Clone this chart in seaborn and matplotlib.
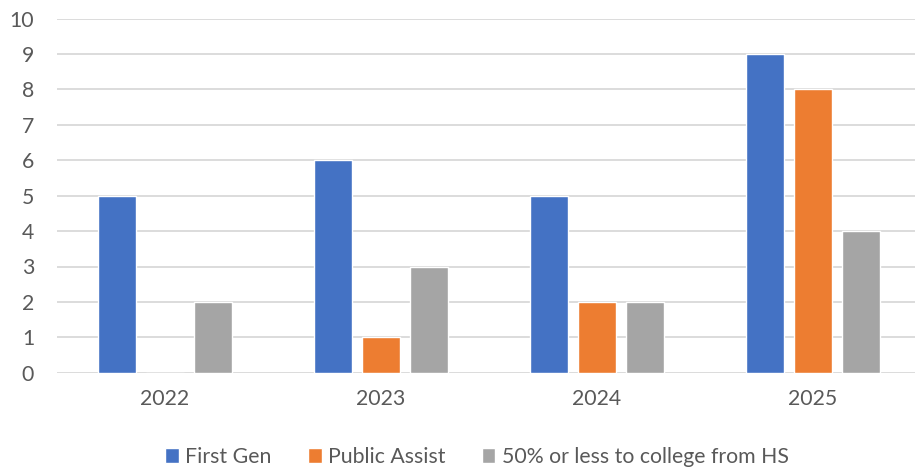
import matplotlib
matplotlib.use("Agg")
import matplotlib.pyplot as plt
import seaborn as sns
import pandas as pd

years = ["2022", "2023", "2024", "2025"]
series = ["First Gen", "Public Assist", "50% or less to college from HS"]
first_gen = [5, 6, 5, 9]
public_assist = [0, 1, 2, 8]
low_college = [2, 3, 2, 4]
colors = ["#4472C4", "#ED7D31", "#A5A5A5"]

rows = []
for name, vals in zip(series, [first_gen, public_assist, low_college]):
    for y, v in zip(years, vals):
        rows.append({"Year": y, "Series": name, "Value": v})
df = pd.DataFrame(rows)

sns.set_theme(style="white")
plt.rcParams["font.family"] = ["Lato", "DejaVu Sans"]

W, H = 915, 471
fig = plt.figure(figsize=(W / 100, H / 100), dpi=100)
left, right, top, bottom = 57, 915, 18.7, 372.7
ax = fig.add_axes([left / W, 1 - bottom / H, (right - left) / W, (bottom - top) / H])

sns.barplot(data=df, x="Year", y="Value", hue="Series", hue_order=series,
            palette=colors, width=0.667, gap=0.216, ax=ax, saturation=1,
            legend=True)

fs = 15.3
ax.set_ylim(0, 10)
ax.set_xlim(-0.5, 3.5 - 6 / 216)
ax.set_yticks(range(0, 11))
ax.yaxis.grid(True, color="#D9D9D9", linewidth=1.3)
ax.set_axisbelow(True)
for s in ax.spines.values():
    s.set_visible(False)
ax.set_xlabel("")
ax.set_ylabel("")
ax.tick_params(axis="y", length=0, pad=16.5, labelsize=fs, labelcolor="#595959")
ax.tick_params(axis="x", length=0, pad=12, labelsize=fs, labelcolor="#595959")

handles, labels = ax.get_legend_handles_labels()
ax.legend_.remove()
fig.legend(handles, labels, loc="center", bbox_to_anchor=(477 / W, 1 - 457 / H),
           ncol=3, frameon=False, fontsize=fs, labelcolor="#595959",
           handlelength=0.65, handleheight=0.65, handletextpad=0.3,
           columnspacing=1.7, borderaxespad=0)

fig.savefig("out.png", dpi=100)
